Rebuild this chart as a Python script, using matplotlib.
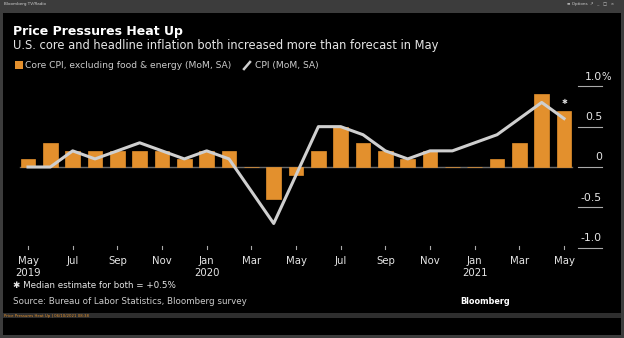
import matplotlib
matplotlib.use("Agg")
import matplotlib.pyplot as plt
from matplotlib.patches import Rectangle
from matplotlib.lines import Line2D

months = ["May", "Jun", "Jul", "Aug", "Sep", "Oct", "Nov", "Dec",
          "Jan", "Feb", "Mar", "Apr", "May", "Jun", "Jul", "Aug", "Sep",
          "Oct", "Nov", "Dec", "Jan", "Feb", "Mar", "Apr", "May"]
core_cpi = [0.1, 0.3, 0.2, 0.2, 0.2, 0.2, 0.2, 0.1, 0.2, 0.2, 0.0, -0.4, -0.1,
            0.2, 0.5, 0.3, 0.2, 0.1, 0.2, 0.0, 0.0, 0.1, 0.3, 0.9, 0.7]
cpi = [0.0, 0.0, 0.2, 0.1, 0.2, 0.3, 0.2, 0.1, 0.2, 0.1, -0.3, -0.7, -0.1,
       0.5, 0.5, 0.4, 0.2, 0.1, 0.2, 0.2, 0.3, 0.4, 0.6, 0.8, 0.6]
tick_idx = [0, 2, 4, 6, 8, 10, 12, 14, 16, 18, 20, 22, 24]
year_labels = {0: "2019", 8: "2020", 20: "2021"}
y_ticks = [1.0, 0.5, 0.0, -0.5, -1.0]
y_labels = ["1.0", "0.5", "0", "-0.5", "-1.0"]

W, H = 624, 338
ORANGE = "#E3902D"
LINE = "#CFCFCF"
TXT = "#E6E6E6"


def fx(x):
    return x / W


def fy(y):
    return 1 - y / H


fig = plt.figure(figsize=(W / 100, H / 100), dpi=100)
fig.patch.set_facecolor("black")

# window chrome
fig.add_artist(Rectangle((0, 0), 1, 1, transform=fig.transFigure,
                         facecolor="#3c3c3c", edgecolor="none", zorder=0))
fig.add_artist(Rectangle((fx(3), fy(335)), fx(618), (332 - 10) / H,
                         transform=fig.transFigure, facecolor="black",
                         edgecolor="none", zorder=0))
fig.add_artist(Rectangle((fx(3), fy(318)), fx(618), 5 / H,
                         transform=fig.transFigure, facecolor="#2e2e2e",
                         edgecolor="none", zorder=0))
fig.text(fx(4), fy(4.5), "Bloomberg TV/Radio", fontsize=3, color="#cfcfcf", va="center")
fig.text(fx(567), fy(4.5), "\u2261 Options", fontsize=3, color="#cfcfcf", va="center")
fig.text(fx(590), fy(4.5), "\u2197   _   \u25a1   \u00d7", fontsize=3, color="#cfcfcf", va="center")
fig.text(fx(4), fy(315.5), "Price Pressures Heat Up | 06/10/2021 08:38",
         fontsize=2.8, color="#E3902D", va="center")

# titles
fig.text(fx(13), fy(31), "Price Pressures Heat Up", fontsize=9.0,
         fontweight="bold", color="white", va="center")
fig.text(fx(13), fy(45.5), "U.S. core and headline inflation both increased more than forecast in May",
         fontsize=8.3, color=TXT, va="center")

# legend
fig.add_artist(Rectangle((fx(15), fy(69)), fx(8), 8 / H, transform=fig.transFigure,
                         facecolor=ORANGE, edgecolor="none"))
fig.text(fx(25), fy(65.5), "Core CPI, excluding food & energy (MoM, SA)",
         fontsize=6.6, color="#cccccc", va="center")
fig.add_artist(Line2D([fx(244), fx(250)], [fy(69), fy(62)], transform=fig.transFigure,
                      color=LINE, linewidth=1.8))
fig.text(fx(255), fy(65.5), "CPI (MoM, SA)", fontsize=6.6, color="#cccccc", va="center")

# plot area
ax = fig.add_axes([fx(10), fy(250), fx(575 - 10), (250 - 80) / H])
ax.set_facecolor("black")
for s in ax.spines.values():
    s.set_visible(False)

x = list(range(len(months)))
ax.bar(x, core_cpi, width=0.66, color=ORANGE, edgecolor=ORANGE, linewidth=0.5, zorder=2)
ax.axhline(0, xmin=0.018, xmax=0.995, color="#6a6a6a", linewidth=1, zorder=1)
ax.plot(x, cpi, color=LINE, linewidth=2.2, zorder=3)
ax.text(24, 0.81, "\u2731", color="#dddddd", fontsize=5, ha="center", va="center", zorder=4)

ax.set_xlim(-0.806, 24.49)
ax.set_ylim(-(250 - 167) / 80.7, (167 - 80) / 80.7)
ax.set_xticks([])
ax.set_yticks([])

# x ticks and labels
for i in tick_idx:
    ax.plot([i, i], [-0.985, -1.015], color="#aaaaaa", linewidth=0.8, clip_on=False)
    ax.text(i, -1.16, months[i], color=TXT, fontsize=7.3, ha="center", va="center")
    if i in year_labels:
        ax.text(i, -1.31, year_labels[i], color=TXT, fontsize=7.3, ha="center", va="center")

# right y axis labels
trans = ax.get_yaxis_transform()
x_line0 = (578 - 10) / 565
x_line1 = (602 - 10) / 565
for v, lab in zip(y_ticks, y_labels):
    ax.plot([x_line0, x_line1], [v, v], transform=trans, color="#aaaaaa",
            linewidth=0.8, clip_on=False)
    ax.text(x_line1, v + 0.12, lab, transform=trans, color=TXT, fontsize=7.8,
            ha="right", va="center")
    if v == 1.0:
        ax.text(x_line1, v + 0.12, "%", transform=trans, color=TXT, fontsize=7.3,
                ha="left", va="center")

# footer
fig.text(fx(13), fy(286), "\u2731 Median estimate for both = +0.5%", fontsize=6.3,
         color=TXT, va="center")
fig.text(fx(13), fy(301.5), "Source: Bureau of Labor Statistics, Bloomberg survey",
         fontsize=6.3, color="#cccccc", va="center")
fig.text(fx(510), fy(302), "Bloomberg", fontsize=5.9, fontweight="bold",
         color="white", ha="right", va="center")

fig.savefig("out.png", dpi=100, facecolor=fig.get_facecolor())
